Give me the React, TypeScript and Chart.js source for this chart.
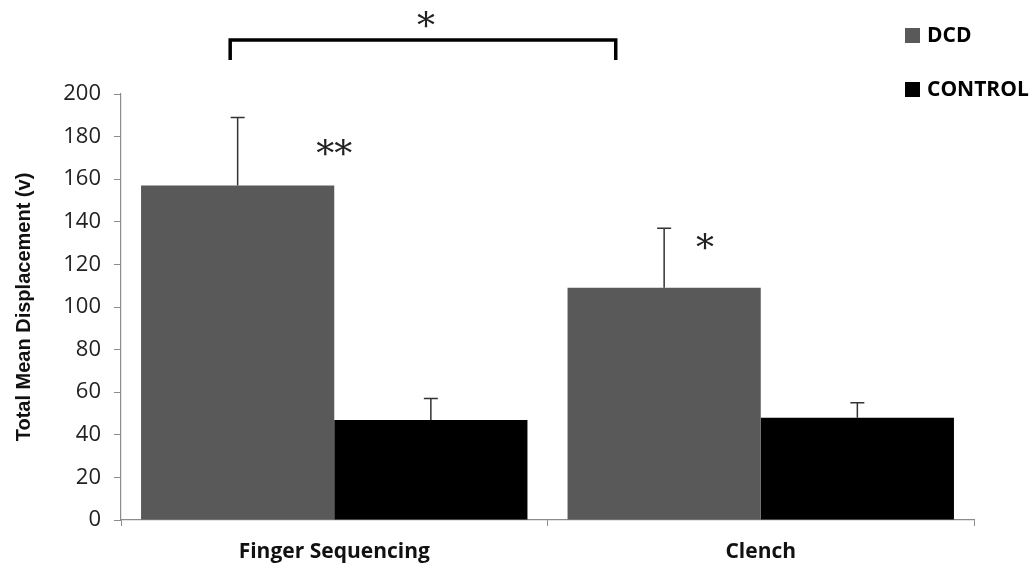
import React, { useEffect, useRef } from "react";
import { Chart, registerables } from "chart.js";

Chart.register(...registerables);

const categories = ["Finger Sequencing", "Clench"];
const seriesNames = ["DCD", "CONTROL"];
const dcdValues = [157, 109];
const dcdErrors = [32, 28];
const controlValues = [47, 48];
const controlErrors = [10, 7];
const yTicks = [0, 20, 40, 60, 80, 100, 120, 140, 160, 180, 200];

// significance annotations in data units (x = category index, y = value)
const bracketX = [-0.244, 0.66];
const bracketY = [216, 225.4];
const bracketStar = { x: 0.215, y: 234.5, text: "*" };
const barStars = [
  { x: 0.0, y: 174.5, text: "**" },
  { x: 0.869, y: 130, text: "*" },
];

const COLORS = ["#595959", "#000000"];
const FONT = "'Open Sans', Lato, sans-serif";

const errorBarPlugin = {
  id: "errorBars",
  afterDatasetsDraw(chart: any) {
    const ctx = chart.ctx;
    const y = chart.scales.y;
    const errs = [dcdErrors, controlErrors];
    ctx.save();
    ctx.strokeStyle = "#333";
    ctx.lineWidth = 1.5;
    chart.data.datasets.forEach((ds: any, di: number) => {
      const meta = chart.getDatasetMeta(di);
      meta.data.forEach((bar: any, i: number) => {
        const top = y.getPixelForValue(ds.data[i] + errs[di][i]);
        const base = y.getPixelForValue(ds.data[i]);
        ctx.beginPath();
        ctx.moveTo(bar.x, base);
        ctx.lineTo(bar.x, top);
        ctx.moveTo(bar.x - 7, top);
        ctx.lineTo(bar.x + 7, top);
        ctx.stroke();
      });
    });
    ctx.restore();
  },
};

const annotationPlugin = {
  id: "annotations",
  afterDraw(chart: any) {
    const ctx = chart.ctx;
    const xs = chart.scales.x;
    const ys = chart.scales.y;
    const px = (v: number) => xs.getPixelForValue(0) + v * (xs.getPixelForValue(1) - xs.getPixelForValue(0));
    ctx.save();
    // bracket
    ctx.strokeStyle = "#000";
    ctx.lineWidth = 3.5;
    ctx.lineJoin = "miter";
    ctx.beginPath();
    ctx.moveTo(px(bracketX[0]), ys.getPixelForValue(bracketY[0]));
    ctx.lineTo(px(bracketX[0]), ys.getPixelForValue(bracketY[1]));
    ctx.lineTo(px(bracketX[1]), ys.getPixelForValue(bracketY[1]));
    ctx.lineTo(px(bracketX[1]), ys.getPixelForValue(bracketY[0]));
    ctx.stroke();
    // stars
    ctx.fillStyle = "#222";
    ctx.textAlign = "center";
    ctx.textBaseline = "middle";
    ctx.font = "36px 'DejaVu Serif', serif";
    const stars = [bracketStar, ...barStars];
    stars.forEach((s) => {
      ctx.fillText(s.text, px(s.x), ys.getPixelForValue(s.y) + 8);
    });
    // legend
    ctx.font = `bold 21px ${FONT}`;
    ctx.textAlign = "left";
    ctx.textBaseline = "middle";
    const legendY = [36, 90];
    seriesNames.forEach((name, i) => {
      ctx.fillStyle = COLORS[i];
      ctx.fillRect(905, legendY[i] - 8, 15, 15);
      ctx.fillStyle = "#000";
      ctx.fillText(name, 927, legendY[i]);
    });
    ctx.restore();
  },
};

export default function App() {
  const ref = useRef<HTMLCanvasElement>(null);
  useEffect(() => {
    document.body.style.margin = "0";
    const chart = new Chart(ref.current!, {
      type: "bar",
      data: {
        labels: categories,
        datasets: [
          { label: seriesNames[0], data: dcdValues, backgroundColor: COLORS[0], barPercentage: 1, categoryPercentage: 0.906 },
          { label: seriesNames[1], data: controlValues, backgroundColor: COLORS[1], barPercentage: 1, categoryPercentage: 0.906 },
        ],
      },
      options: {
        animation: false,
        responsive: false,
        devicePixelRatio: 1,
        layout: { padding: { top: 94, right: 61, left: 0, bottom: 0 } },
        plugins: { legend: { display: false }, tooltip: { enabled: false } },
        scales: {
          x: {
            grid: { offset: true, drawOnChartArea: false, drawTicks: true, tickLength: 6, color: "#8c8c8c" },
            border: { color: "#8c8c8c", width: 1.2 },
            ticks: { color: "#111", font: { family: FONT, size: 21, weight: "bold" }, padding: 13 },
            afterFit(scale: any) { scale.height = 48; },
          },
          y: {
            min: 0,
            max: 200,
            afterBuildTicks(scale: any) { scale.ticks = yTicks.map((v) => ({ value: v })); },
            grid: { drawOnChartArea: false, drawTicks: true, tickLength: 7, color: "#8c8c8c" },
            border: { color: "#8c8c8c", width: 1.2 },
            ticks: { color: "#222", font: { family: FONT, size: 22 }, padding: 13 },
            title: {
              display: true,
              text: "Total Mean Displacement (v)",
              color: "#111",
              font: { family: "'Liberation Sans', Arial, sans-serif", size: 20, weight: "bold" },
              padding: { top: 12, bottom: 0 },
            },
            afterFit(scale: any) { scale.width = 121; },
          },
        },
      },
      plugins: [errorBarPlugin, annotationPlugin],
    });
    return () => chart.destroy();
  }, []);
  return (
    <div style={{ width: 1035, height: 568, background: "#fff" }}>
      <canvas ref={ref} width={1035} height={568} />
    </div>
  );
}
